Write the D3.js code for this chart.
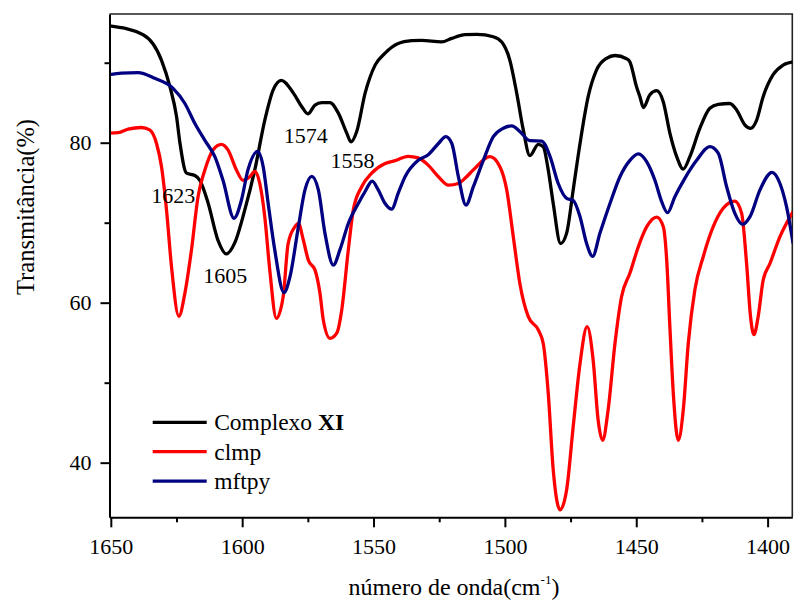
<!DOCTYPE html>
<html>
<head>
<meta charset="utf-8">
<script src="https://cdn.jsdelivr.net/npm/d3@7"></script>
<style>
  html, body { margin: 0; padding: 0; background: #fff; }
  svg { display: block; font-family: "Liberation Serif", "Times New Roman", serif; }
</style>
</head>
<body>
<svg id="chart" width="794" height="604"></svg>
<script>
// IR spectra, transmittance (%) vs wavenumber (cm-1)
const complexoXI = [
  [1650.5, 94.6], [1637.7, 93.5], [1630.7, 90.3], [1627.5, 87.0], [1625.0, 83.3],
  [1623.7, 80.0], [1621.2, 76.2], [1618.0, 75.9], [1616.1, 75.3], [1613.0, 72.5],
  [1609.2, 67.8], [1606.0, 66.1], [1602.8, 67.5], [1599.0, 71.6], [1595.2, 76.6],
  [1591.4, 82.8], [1588.2, 86.6], [1585.1, 87.8], [1580.5, 86.2], [1577.3, 84.5],
  [1575.0, 83.6], [1572.3, 84.7], [1569.7, 85.0], [1566.6, 85.0], [1563.4, 83.7],
  [1560.2, 81.2], [1558.6, 80.1], [1556.4, 81.4], [1553.2, 86.2], [1549.4, 89.7],
  [1545.6, 91.2], [1540.6, 92.4], [1535.5, 92.75], [1531.7, 92.8], [1524.1, 92.6],
  [1520.2, 93.05], [1515.2, 93.5], [1510.7, 93.55], [1504.4, 93.25], [1501.2, 92.6],
  [1498.1, 90.3], [1495.5, 86.2], [1493.0, 81.6], [1490.5, 78.4], [1487.3, 79.8],
  [1485.4, 79.5], [1483.5, 76.6], [1481.6, 72.4], [1478.8, 67.4], [1476.5, 68.7],
  [1474.0, 74.1], [1471.4, 79.9], [1468.3, 85.75], [1465.1, 89.1], [1461.3, 90.55],
  [1458.1, 90.9], [1453.7, 90.5], [1452.4, 90.1], [1449.9, 87.0], [1448.6, 85.75],
  [1447.3, 84.4], [1444.8, 86.0], [1442.2, 86.5], [1439.7, 85.1], [1437.2, 81.2],
  [1434.6, 78.25], [1432.1, 76.7], [1429.6, 78.25], [1425.8, 81.8], [1422.0, 84.3],
  [1418.8, 84.8], [1414.4, 84.9], [1411.8, 84.1], [1408.6, 82.2], [1406.5, 81.8],
  [1404.2, 82.8], [1401.7, 85.75], [1397.9, 88.5], [1394.1, 89.7], [1390.3, 90.1]
];

const clmp = [
  [1650.5, 81.2], [1647.2, 81.25], [1643.4, 81.7], [1638.4, 81.9], [1635.2, 81.6],
  [1632.6, 79.9], [1630.7, 77.0], [1628.8, 71.6], [1626.9, 64.5], [1624.1, 58.3],
  [1621.8, 61.2], [1619.3, 66.6], [1616.8, 73.25], [1614.2, 76.6], [1611.1, 79.1],
  [1607.9, 79.8], [1605.4, 79.1], [1602.2, 76.6], [1599.7, 75.3], [1597.1, 75.75],
  [1595.2, 76.4], [1593.3, 74.9], [1591.4, 70.75], [1589.5, 64.1], [1587.0, 58.05],
  [1584.4, 60.75], [1582.5, 67.4], [1579.9, 69.5], [1578.6, 69.9], [1576.7, 67.8],
  [1574.8, 65.3], [1572.3, 64.1], [1570.4, 61.2], [1569.1, 57.8], [1566.6, 55.55],
  [1564.0, 56.2], [1562.1, 59.1], [1559.6, 66.6], [1557.7, 71.6], [1554.5, 74.5],
  [1550.7, 76.2], [1545.6, 77.4], [1541.8, 77.75], [1536.8, 78.3], [1533.0, 78.1],
  [1529.2, 77.2], [1525.3, 75.75], [1521.5, 74.7], [1517.7, 74.9], [1515.2, 75.55],
  [1512.0, 76.6], [1505.7, 78.25], [1501.9, 77.0], [1499.3, 74.1], [1496.8, 68.25],
  [1494.3, 62.4], [1491.1, 58.25], [1487.3, 56.6], [1485.4, 54.9], [1483.5, 48.7],
  [1481.6, 39.1], [1479.0, 34.1], [1476.5, 36.6], [1474.0, 44.5], [1471.4, 52.4],
  [1468.7, 57.0], [1466.4, 52.8], [1464.5, 45.3], [1462.8, 42.8], [1460.7, 46.6],
  [1458.1, 54.9], [1455.6, 60.75], [1452.4, 63.7], [1449.2, 67.0], [1446.0, 69.5],
  [1442.2, 70.7], [1439.7, 69.5], [1438.4, 65.3], [1437.2, 57.0], [1435.9, 48.7],
  [1434.0, 42.8], [1432.1, 46.6], [1430.2, 54.9], [1427.7, 61.6], [1424.5, 65.75],
  [1420.7, 69.5], [1416.9, 71.8], [1412.5, 72.7], [1409.9, 71.2], [1408.0, 64.9],
  [1406.5, 58.25], [1405.2, 56.0], [1403.6, 58.25], [1401.7, 62.8], [1399.1, 64.9],
  [1395.3, 68.25], [1390.3, 71.4]
];

const mftpy = [
  [1650.5, 88.5], [1646.0, 88.7], [1639.6, 88.75], [1633.3, 88.05], [1626.3, 86.8],
  [1621.8, 84.9], [1618.0, 82.4], [1614.2, 80.3], [1610.4, 78.25], [1607.3, 75.3],
  [1603.1, 70.55], [1600.3, 72.8], [1597.8, 76.6], [1594.2, 78.9], [1592.0, 77.0],
  [1590.1, 72.4], [1587.6, 66.6], [1584.1, 61.25], [1581.8, 63.25], [1578.6, 69.5],
  [1576.1, 74.1], [1573.5, 75.8], [1571.0, 74.1], [1568.5, 68.7], [1565.3, 64.7],
  [1562.8, 66.6], [1559.6, 69.9], [1555.8, 72.4], [1553.2, 73.9], [1550.5, 75.2],
  [1548.2, 74.1], [1545.6, 72.4], [1543.1, 71.7], [1540.6, 73.7], [1538.0, 75.75],
  [1533.0, 77.8], [1529.2, 78.5], [1525.3, 79.9], [1522.5, 80.75], [1520.2, 79.9],
  [1517.7, 75.75], [1514.8, 72.2], [1512.0, 74.5], [1508.2, 77.8], [1504.4, 80.75],
  [1500.6, 81.8], [1497.4, 82.1], [1494.3, 81.4], [1490.5, 80.25], [1486.0, 80.2],
  [1482.8, 78.25], [1479.7, 74.9], [1476.5, 73.05], [1474.0, 72.8], [1471.4, 70.75],
  [1468.9, 67.4], [1466.6, 65.8], [1463.8, 68.7], [1460.0, 72.4], [1456.2, 75.75],
  [1452.4, 77.8], [1449.2, 78.6], [1446.0, 77.6], [1442.9, 75.3], [1440.3, 72.6],
  [1438.1, 71.25], [1435.3, 73.25], [1431.5, 75.55], [1427.0, 77.8], [1422.0, 79.5],
  [1418.8, 78.7], [1415.6, 74.5], [1412.5, 71.2], [1409.5, 69.8], [1406.7, 70.75],
  [1402.9, 74.1], [1398.3, 76.3], [1395.3, 74.9], [1392.8, 72.0], [1390.3, 67.4]
];

const seriesNames = ["Complexo XI", "clmp", "mftpy"];
const seriesColors = ["#000000", "#ff0000", "#000080"];

const xMajorTicks = [1650, 1600, 1550, 1500, 1450, 1400];
const xMinorTicks = [1625, 1575, 1525, 1475, 1425];
const yMajorTicks = [40, 60, 80];
const yMinorTicks = [50, 70, 90];

// band assignments written on the plot
const peakLabels = [
  { text: "1623", wn: 1626.2, t: 72.5 },
  { text: "1605", wn: 1606.4, t: 62.5 },
  { text: "1574", wn: 1575.8, t: 80.0 },
  { text: "1558", wn: 1558.0, t: 76.9 }
];

const svg = d3.select("#chart");
const plotLeft = 109.5, plotRight = 792.3, plotTop = 14, plotBottom = 517.3;

const x = d3.scaleLinear().domain([1650.5, 1390.6]).range([plotLeft, plotRight]);
const y = d3.scaleLinear().domain([33.17, 96.09]).range([plotBottom, plotTop]);

svg.append("defs").append("clipPath").attr("id", "plotClip")
  .append("rect").attr("x", plotLeft).attr("y", plotTop)
  .attr("width", plotRight - plotLeft).attr("height", plotBottom - plotTop);

// frame top and right
svg.append("path")
  .attr("d", `M${plotLeft},${plotTop}H${plotRight}V${plotBottom}`)
  .attr("fill", "none").attr("stroke", "#222").attr("stroke-width", 1.6);

const line = d3.line()
  .x(d => x(d[0]))
  .y(d => y(d[1]))
  .curve(d3.curveMonotoneX);

const plot = svg.append("g").attr("clip-path", "url(#plotClip)");
[complexoXI, clmp, mftpy].forEach((data, i) => {
  plot.append("path")
    .datum(data)
    .attr("d", line)
    .attr("fill", "none")
    .attr("stroke", seriesColors[i])
    .attr("stroke-width", 3.3)
    .attr("stroke-linejoin", "round");
});

// axes
function styleAxis(g) {
  g.select(".domain").attr("stroke", "#000").attr("stroke-width", 2);
  g.selectAll(".tick line").attr("stroke", "#000").attr("stroke-width", 2);
  g.selectAll(".tick text")
    .attr("font-family", "'Liberation Serif', 'Times New Roman', serif")
    .attr("font-size", 22).attr("fill", "#000");
}

svg.append("g").attr("transform", `translate(0,${plotBottom})`)
  .call(d3.axisBottom(x).tickValues(xMinorTicks).tickSize(5).tickFormat("").tickSizeOuter(0))
  .call(g => { g.select(".domain").remove(); g.selectAll(".tick line").attr("stroke", "#000").attr("stroke-width", 2); });

svg.append("g").attr("transform", `translate(0,${plotBottom})`)
  .call(d3.axisBottom(x).tickValues(xMajorTicks).tickSize(10).tickPadding(11)
    .tickFormat(d3.format("d")).tickSizeOuter(0))
  .call(styleAxis);

svg.append("g").attr("transform", `translate(${plotLeft},0)`)
  .call(d3.axisLeft(y).tickValues(yMinorTicks).tickSize(5).tickFormat("").tickSizeOuter(0))
  .call(g => { g.select(".domain").remove(); g.selectAll(".tick line").attr("stroke", "#000").attr("stroke-width", 2); });

svg.append("g").attr("transform", `translate(${plotLeft},0)`)
  .call(d3.axisLeft(y).tickValues(yMajorTicks).tickSize(9).tickPadding(9)
    .tickFormat(d3.format("d")).tickSizeOuter(0))
  .call(styleAxis);

// axis titles
const xTitle = svg.append("text")
  .attr("x", 454).attr("y", 595)
  .attr("text-anchor", "middle").attr("font-size", 24).attr("fill", "#000");
xTitle.append("tspan").text("número de onda(cm");
xTitle.append("tspan").attr("font-size", 13).attr("dy", -11).text("-1");
xTitle.append("tspan").attr("dy", 11).text(")");

svg.append("text")
  .attr("transform", "translate(34,207) rotate(-90)")
  .attr("text-anchor", "middle").attr("font-size", 24.5).attr("fill", "#000")
  .text("Transmitância(%)");

// peak labels
svg.append("g").selectAll("text").data(peakLabels).join("text")
  .attr("x", d => x(d.wn)).attr("y", d => y(d.t))
  .attr("text-anchor", "middle").attr("font-size", 22).attr("fill", "#000")
  .text(d => d.text);

// legend
const legend = svg.append("g").attr("transform", "translate(152.7,422.3)");
seriesNames.forEach((name, i) => {
  const row = legend.append("g").attr("transform", `translate(0,${i * 29.4})`);
  row.append("line").attr("x1", 0).attr("x2", 54).attr("y1", 0).attr("y2", 0)
    .attr("stroke", seriesColors[i]).attr("stroke-width", 3.3);
  const t = row.append("text").attr("x", 61.5).attr("y", 7.8)
    .attr("font-size", 23.5).attr("fill", "#000");
  if (name === "Complexo XI") {
    t.append("tspan").text("Complexo ");
    t.append("tspan").attr("font-weight", "bold").text("XI");
  } else {
    t.text(name);
  }
});
</script>
</body>
</html>
